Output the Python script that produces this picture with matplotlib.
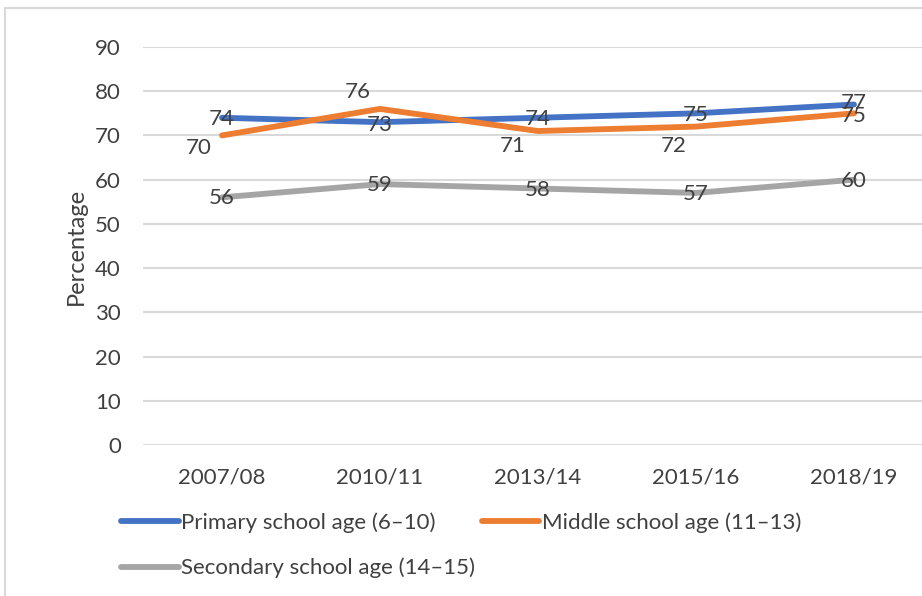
import matplotlib.pyplot as plt
from matplotlib.patches import Rectangle

years = ["2007/08", "2010/11", "2013/14", "2015/16", "2018/19"]
primary = [74, 73, 74, 75, 77]
middle = [70, 76, 71, 72, 75]
secondary = [56, 59, 58, 57, 60]

# label offsets in points (dx, dy) for each series
primary_off = [(0, -1), (0, -2), (0, -1), (0, -1), (0, 1)]
middle_off = [(-17, -9), (-16, 12), (-18, -11), (-16, -14), (0, -2)]
secondary_off = [(0, -0.5), (0, -1), (0, -1), (0, -1), (0, -1)]

plt.rcParams['font.family'] = ['Lato', 'DejaVu Sans']
text_col = '#404040'
fs = 16

fig = plt.figure(figsize=(9.22, 5.96), dpi=100)
fig.patches.append(Rectangle((5 / 922, -0.1), 1.2, 1.1 - 8 / 596, transform=fig.transFigure,
                             fill=False, edgecolor='#d9d9d9', linewidth=1.5))

ax = fig.add_axes([143 / 922, 1 - 445 / 596, 790 / 922, 398 / 596])
x = range(len(years))

l1, = ax.plot(x, primary, color='#4472C4', linewidth=4.2, solid_capstyle='round', label='Primary school age (6–10)', zorder=3)
l2, = ax.plot(x, middle, color='#ED7D31', linewidth=4.2, solid_capstyle='round', label='Middle school age (11–13)', zorder=3)
l3, = ax.plot(x, secondary, color='#A5A5A5', linewidth=4.2, solid_capstyle='round', label='Secondary school age (14–15)', zorder=3)

for vals, offs in [(primary, primary_off), (middle, middle_off), (secondary, secondary_off)]:
    for i, v in enumerate(vals):
        ax.annotate(str(v), (i, v), xytext=offs[i], textcoords='offset points',
                    ha='center', va='center', fontsize=fs, color=text_col, zorder=4)

ax.set_xlim(-0.5, len(years) - 0.5)
ax.set_ylim(0, 90)
ax.set_yticks(range(0, 100, 10))
ax.set_xticks(list(x))
ax.set_xticklabels(years)
ax.yaxis.grid(True, color='#d9d9d9', linewidth=1.5)
ax.set_axisbelow(True)
for s in ax.spines.values():
    s.set_visible(False)
ax.tick_params(length=0, labelsize=fs, labelcolor=text_col)
ax.tick_params(axis='y', pad=16)
ax.tick_params(axis='x', pad=16)
ax.set_ylabel('Percentage', fontsize=17, color=text_col, labelpad=6)

fig.legend([l1, l3, l2], [l1.get_label(), l3.get_label(), l2.get_label()],
           ncol=2, loc='upper left', bbox_to_anchor=(121 / 922, 1 - 512 / 596),
           frameon=False, fontsize=fs, labelcolor=text_col, handlelength=2.6,
           handletextpad=0.1, labelspacing=1.13, columnspacing=0.3,
           borderpad=0, borderaxespad=0)

fig.savefig('out.png', dpi=100)
